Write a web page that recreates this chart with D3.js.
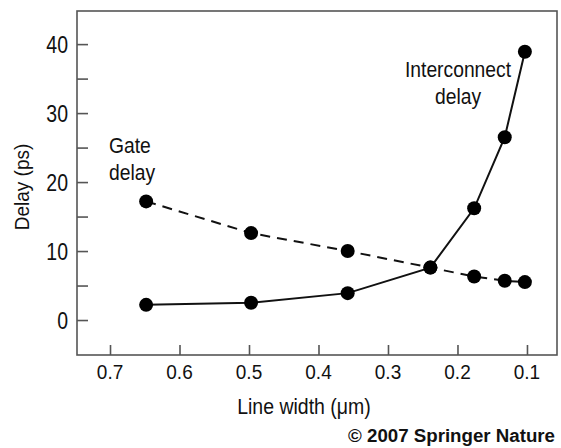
<!DOCTYPE html>
<html><head><meta charset="utf-8">
<script src="https://cdn.jsdelivr.net/npm/d3@7"></script>
<style>
html,body{margin:0;padding:0;background:#fff;}
text{font-family:"Liberation Sans",Arial,Helvetica,sans-serif;fill:#111;}
</style></head>
<body><svg id="c" width="561" height="448"></svg>
<script>
const lineWidths = [0.648, 0.497, 0.358, 0.239, 0.176, 0.132, 0.103];
const gateDelay = [17.2, 12.6, 10.0, 7.6, 6.3, 5.7, 5.5];
const interconnectDelay = [2.2, 2.5, 3.9, 7.6, 16.2, 26.5, 38.9];
const xTicks = [0.7, 0.6, 0.5, 0.4, 0.3, 0.2, 0.1];
const yMajorTicks = [0, 10, 20, 30, 40];
const yMinorTicks = [5, 15, 25, 35];

const svg = d3.select("#c");
const L = 77, R = 557, T = 11, B = 355;
const x = d3.scaleLinear().domain([0.7475, 0.0568]).range([L, R]);
const y = d3.scaleLinear().domain([-5.07, 44.8]).range([B, T]);

// text helper with vertical stretch (the reference font is tall/condensed)
function txt(str, tx, ty, size, sy, anchor, rot) {
  const t = `translate(${tx},${ty})` + (rot ? ` rotate(${rot})` : "") + ` scale(1,${sy})`;
  return svg.append("text").attr("transform", t).attr("text-anchor", anchor)
    .style("font-size", size + "px").text(str);
}

// frame
svg.append("rect").attr("x", L).attr("y", T).attr("width", R - L).attr("height", B - T)
  .attr("fill", "none").attr("stroke", "#555").attr("stroke-width", 1.6);

// axes with inward ticks (labels drawn separately)
const gx = svg.append("g").attr("transform", `translate(0,${B})`)
  .call(d3.axisBottom(x).tickValues(xTicks).tickSize(-10).tickFormat(""));
const gy = svg.append("g").attr("transform", `translate(${L},0)`)
  .call(d3.axisLeft(y).tickValues(yMajorTicks.concat(yMinorTicks)).tickSize(-11).tickFormat(""));
[gx, gy].forEach(g => {
  g.select(".domain").remove();
  g.selectAll("line").attr("stroke", "#555").attr("stroke-width", 1.6);
});
const fx = d3.format(".1f");
xTicks.forEach(d => txt(fx(d), x(d), 379, 19, 1.07, "middle"));
yMajorTicks.forEach(d => txt(String(d), 68, y(d) + 8.5, 19.5, 1.2, "end"));

// lines
const idx = d3.range(lineWidths.length);
const gateLine = d3.line().x(i => x(lineWidths[i])).y(i => y(gateDelay[i]));
const intLine = d3.line().x(i => x(lineWidths[i])).y(i => y(interconnectDelay[i]));
svg.append("path").attr("d", gateLine(idx)).attr("fill", "none").attr("stroke", "#111")
  .attr("stroke-width", 2).attr("stroke-dasharray", "10,7");
svg.append("path").attr("d", intLine(idx)).attr("fill", "none").attr("stroke", "#111")
  .attr("stroke-width", 2);

// dots
svg.append("g").selectAll("circle").data(idx).join("circle")
  .attr("cx", i => x(lineWidths[i])).attr("cy", i => y(gateDelay[i])).attr("r", 7).attr("fill", "#000");
svg.append("g").selectAll("circle").data(idx).join("circle")
  .attr("cx", i => x(lineWidths[i])).attr("cy", i => y(interconnectDelay[i])).attr("r", 7).attr("fill", "#000");

// series labels
txt("Gate", 109, 153, 19.3, 1.1, "start");
txt("delay", 109, 180, 19.3, 1.1, "start");
txt("Interconnect", 458, 77, 19.3, 1.1, "middle");
txt("delay", 458, 104, 19.3, 1.1, "middle");

// axis titles
txt("Line width (\u03bcm)", 304, 414, 19.5, 1.1, "middle");
txt("Delay (ps)", 29, 187, 19, 1.1, "middle", -90);

// credit
svg.append("text").attr("x", 555).attr("y", 442).attr("text-anchor", "end")
  .style("font-weight", "bold").style("font-size", "18.7px").text("\u00a9 2007 Springer Nature");
</script></body></html>
